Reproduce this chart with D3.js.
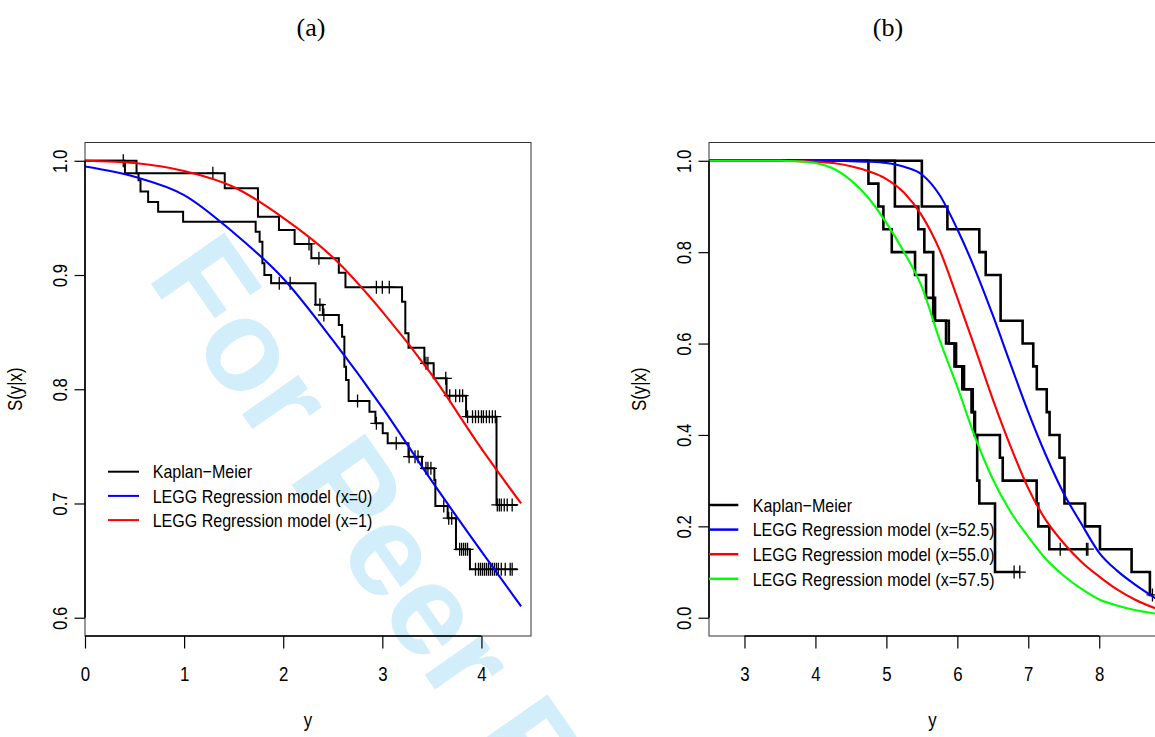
<!DOCTYPE html>
<html><head><meta charset="utf-8">
<script src="https://cdn.jsdelivr.net/npm/d3@7"></script>
<style>body{margin:0;background:#fff} svg{display:block}</style>
</head><body>
<svg id="c" width="1155" height="737"></svg>
<script>
// ---------- Panel (a) data ----------
const aXTicks = [0, 1, 2, 3, 4];
const aYTicks = [0.6, 0.7, 0.8, 0.9, 1.0];
// LEGG model curves
const aModelTime = [0, 0.5, 1.0, 1.5, 2.0, 2.5, 3.0, 3.5, 4.0, 4.4];
const aModelX0 = [0.995, 0.986, 0.970, 0.937, 0.897, 0.843, 0.784, 0.7195, 0.658, 0.610];
const aModelX1 = [1.0, 0.998, 0.991, 0.977, 0.950, 0.9155, 0.868, 0.8125, 0.748, 0.700];
// Kaplan-Meier, group x=0
const aKm0Time = [0, 0.52, 0.54, 0.56, 0.637, 0.738, 0.99, 1.722, 1.762, 1.79, 1.81, 1.878, 2.326, 2.40, 2.561, 2.594, 2.617, 2.634, 2.66, 2.87, 2.93, 3.004, 3.054, 3.264, 3.40, 3.525, 3.535, 3.659, 3.743, 3.884, 4.364];
const aKm0Surv = [1, 0.989, 0.983, 0.973, 0.964, 0.9554, 0.9467, 0.9379, 0.9292, 0.9103, 0.900, 0.8928, 0.874, 0.865, 0.8563, 0.846, 0.8198, 0.8081, 0.7897, 0.7804, 0.7702, 0.7615, 0.7527, 0.741, 0.7308, 0.7206, 0.6978, 0.6871, 0.6599, 0.6424, 0.6424];
const aKm0Cens = [1.96, 2.07, 2.37, 2.41, 2.75, 2.94, 3.14, 3.27, 3.33, 3.36, 3.44, 3.46, 3.49, 3.62, 3.67, 3.70, 3.78, 3.80, 3.82, 3.84, 3.86, 3.94, 3.97, 3.99, 4.01, 4.03, 4.05, 4.07, 4.09, 4.11, 4.13, 4.15, 4.17, 4.20, 4.24, 4.29, 4.31];
// Kaplan-Meier, group x=1
const aKm1Time = [0, 0.403, 1.41, 1.745, 1.957, 2.115, 2.284, 2.561, 2.628, 3.199, 3.232, 3.264, 3.424, 3.518, 3.648, 3.845, 4.152, 4.364];
const aKm1Surv = [1, 0.9891, 0.9759, 0.9511, 0.9394, 0.9272, 0.9147, 0.902, 0.8893, 0.8767, 0.849, 0.8364, 0.8227, 0.8096, 0.7944, 0.776, 0.6987, 0.6987];
const aKm1Cens = [0.386, 1.29, 2.26, 2.36, 2.94, 3.00, 3.07, 3.44, 3.46, 3.64, 3.68, 3.74, 3.78, 3.81, 3.86, 3.91, 3.94, 3.97, 4.00, 4.02, 4.05, 4.08, 4.11, 4.14, 4.16, 4.18, 4.20, 4.23, 4.26, 4.31];
const aLegend = ["Kaplan\u2212Meier", "LEGG Regression model (x=0)", "LEGG Regression model (x=1)"];

// ---------- Panel (b) data ----------
const bXTicks = [3, 4, 5, 6, 7, 8];
const bYTicks = [0.0, 0.2, 0.4, 0.6, 0.8, 1.0];
const bModelTime = [2.5, 3.0, 3.5, 3.75, 4.0, 4.25, 4.5, 4.75, 5.0, 5.25, 5.5, 5.75, 6.0, 6.25, 6.5, 6.75, 7.0, 7.25, 7.5, 7.75, 8.0, 8.25, 8.5, 8.8];
const bModel525 = [1, 1, 1, 1, 1, 1, 0.999, 0.998, 0.995, 0.987, 0.970, 0.925, 0.850, 0.762, 0.662, 0.555, 0.450, 0.355, 0.272, 0.205, 0.142, 0.103, 0.073, 0.042];
const bModel550 = [1, 1, 1, 0.999, 0.998, 0.995, 0.988, 0.977, 0.960, 0.930, 0.880, 0.805, 0.700, 0.590, 0.478, 0.375, 0.283, 0.213, 0.163, 0.122, 0.090, 0.062, 0.040, 0.020];
const bModel575 = [1, 1, 1, 0.999, 0.995, 0.983, 0.957, 0.918, 0.864, 0.800, 0.724, 0.608, 0.505, 0.395, 0.303, 0.232, 0.177, 0.128, 0.092, 0.063, 0.040, 0.027, 0.017, 0.009];
const bKmATime = [0, 5.50, 5.86, 6.31, 6.40, 6.61, 6.92, 7.07, 7.12, 7.26, 7.30, 7.44, 7.51, 7.80, 8.01, 8.456, 8.714, 8.75];
const bKmASurv = [1, 0.90, 0.85, 0.80, 0.75, 0.65, 0.60, 0.55, 0.50, 0.45, 0.40, 0.35, 0.25, 0.20, 0.15, 0.10, 0.05, 0.05];
const bKmACens = [8.75];
const bKmBTime = [0, 5.12, 5.45, 5.535, 5.66, 5.88, 5.96, 6.07, 6.20, 6.24, 6.60, 6.64, 7.118, 7.141, 7.296, 7.84];
const bKmBSurv = [1, 0.90, 0.85, 0.80, 0.65, 0.60, 0.55, 0.50, 0.45, 0.40, 0.35, 0.30, 0.25, 0.20, 0.15, 0.15];
const bKmBCens = [7.45, 7.82, 7.84];
const bKmCTime = [0, 4.747, 4.887, 4.958, 5.076, 5.404, 5.559, 5.686, 5.841, 5.982, 6.094, 6.217, 6.249, 6.28, 6.31, 6.531, 6.88];
const bKmCSurv = [1, 0.95, 0.90, 0.85, 0.80, 0.75, 0.70, 0.65, 0.60, 0.55, 0.50, 0.45, 0.40, 0.30, 0.25, 0.10, 0.10];
const bKmCCens = [6.80, 6.88];
const bLegend = ["Kaplan\u2212Meier", "LEGG Regression model (x=52.5)", "LEGG Regression model (x=55.0)", "LEGG Regression model (x=57.5)"];

const titles = ["(a)", "(b)"];
const xLabel = "y";
const yLabel = "S(y|x)";

// ---------- drawing ----------
const FONT = "'Liberation Sans', Arial, Helvetica, sans-serif";
const CX = 0.862;
const svg = d3.select('#c');
svg.append('rect').attr('width', 1155).attr('height', 737).attr('fill', '#fff');

// watermark
svg.append('text')
  .attr('transform', 'translate(146,277) rotate(55)')
  .attr('font-family', FONT).attr('font-weight', 'bold').attr('font-size', 130)
  .attr('fill', '#d2eefa').text('For Peer Review');

function addText(parent, x, y, s, o = {}) {
  const size = o.size || 19.5, anchor = o.anchor || 'start', rot = o.rot || 0;
  const sx = o.sx === undefined ? CX : o.sx;
  return parent.append('text')
    .attr('transform', `translate(${x},${y}) rotate(${rot}) scale(${sx},1)`)
    .attr('text-anchor', anchor).attr('font-family', o.family || FONT)
    .attr('font-size', size).attr('fill', '#000').text(s);
}
function stepAt(times, surv, t) {
  let s = surv[0];
  for (let i = 0; i < times.length; i++) if (times[i] <= t) s = surv[i];
  return s;
}

const TOP = 142.5, BOT = 636;

function panel(cfg) {
  const x = d3.scaleLinear().domain(cfg.xdom).range([cfg.left, cfg.right]);
  const y = d3.scaleLinear().domain(cfg.ydom).range([BOT, TOP]);
  const g = svg.append('g');
  const cid = 'clip' + cfg.id;
  svg.append('clipPath').attr('id', cid).append('rect')
    .attr('x', cfg.left).attr('y', TOP).attr('width', cfg.right - cfg.left).attr('height', BOT - TOP);
  const pg = g.append('g').attr('clip-path', `url(#${cid})`);

  const step = d3.line().x(d => x(d[0])).y(d => y(d[1])).curve(d3.curveStepAfter);
  cfg.km.forEach(k => {
    pg.append('path').datum(d3.zip(k.t, k.s)).attr('d', step)
      .attr('fill', 'none').attr('stroke', '#000').attr('stroke-width', cfg.kmW);
    const cp = d3.path();
    k.c.forEach(t => {
      const px = x(t), py = y(stepAt(k.t, k.s, t));
      cp.moveTo(px - 6, py); cp.lineTo(px + 6, py);
      cp.moveTo(px, py - 6.5); cp.lineTo(px, py + 6.5);
    });
    pg.append('path').attr('d', cp.toString()).attr('fill', 'none')
      .attr('stroke', '#000').attr('stroke-width', 1.3);
  });
  const smooth = d3.line().x(d => x(d[0])).y(d => y(d[1])).curve(d3.curveMonotoneX);
  cfg.models.forEach(m => {
    pg.append('path').datum(d3.zip(m.t, m.s)).attr('d', smooth)
      .attr('fill', 'none').attr('stroke', m.color).attr('stroke-width', 2.1);
  });

  // box
  g.append('rect').attr('x', cfg.left).attr('y', TOP).attr('width', cfg.right - cfg.left)
    .attr('height', BOT - TOP).attr('fill', 'none').attr('stroke', '#333').attr('stroke-width', 1);

  // x axis
  const xa = g.append('g').attr('transform', `translate(0,${BOT})`)
    .call(d3.axisBottom(x).tickValues(cfg.xticks).tickSize(12.5).tickSizeOuter(0).tickFormat(d3.format('d')));
  xa.select('.domain').remove();
  xa.append('line').attr('x1', x(cfg.xticks[0])).attr('x2', x(cfg.xticks[cfg.xticks.length - 1]))
    .attr('stroke', '#000').attr('stroke-width', 1.6);
  xa.selectAll('.tick line').attr('stroke', '#000').attr('stroke-width', 1.2);
  xa.selectAll('.tick text').attr('y', null).attr('dy', null)
    .attr('transform', `translate(0,44.7) scale(${CX},1)`)
    .attr('font-family', FONT).attr('font-size', 19.5).attr('fill', '#000');
  xa.attr('font-family', FONT).attr('font-size', 19.5);

  // y axis
  const ya = g.append('g').attr('transform', `translate(${cfg.left},0)`)
    .call(d3.axisLeft(y).tickValues(cfg.yticks).tickSize(10.5).tickSizeOuter(0).tickFormat(d3.format('.1f')));
  ya.select('.domain').remove();
  ya.append('line').attr('y1', y(cfg.yticks[0])).attr('y2', y(cfg.yticks[cfg.yticks.length - 1]))
    .attr('stroke', '#000').attr('stroke-width', 1.6);
  ya.selectAll('.tick line').attr('stroke', '#000').attr('stroke-width', 1.2);
  ya.selectAll('.tick text').attr('x', null).attr('dy', null).attr('text-anchor', 'middle')
    .attr('transform', `translate(-18,0) rotate(-90) scale(${CX},1)`)
    .attr('font-family', FONT).attr('font-size', 19.5).attr('fill', '#000');
  ya.attr('font-family', FONT).attr('font-size', 19.5);

  // axis labels
  addText(g, (cfg.left + cfg.right) / 2, 727, xLabel, { anchor: 'middle' });
  addText(g, cfg.left - 63, (TOP + BOT) / 2, yLabel, { anchor: 'middle', rot: -90 });

  // legend
  const lg = cfg.legend;
  lg.labels.forEach((lab, i) => {
    const ly = lg.y0 + i * lg.dy;
    g.append('line').attr('x1', lg.x1).attr('x2', lg.x2).attr('y1', ly).attr('y2', ly)
      .attr('stroke', lg.colors[i]).attr('stroke-width', lg.w);
    addText(g, lg.tx, ly + 6.7, lab, { size: 18.6 });
  });

  // title
  addText(svg, cfg.titleX, 36, cfg.title, { anchor: 'middle', size: 26, sx: 1, family: "'Liberation Serif', 'Times New Roman', serif" });
}

panel({
  id: 'a', left: 85, right: 531, xdom: [0, 4.5], ydom: [0.584, 1.016],
  xticks: aXTicks, yticks: aYTicks, kmW: 2,
  km: [{ t: aKm0Time, s: aKm0Surv, c: aKm0Cens }, { t: aKm1Time, s: aKm1Surv, c: aKm1Cens }],
  models: [{ t: aModelTime, s: aModelX0, color: '#0000ff' }, { t: aModelTime, s: aModelX1, color: '#ff0000' }],
  legend: { labels: aLegend, colors: ['#000', '#0000ff', '#ff0000'], x1: 108, x2: 139, tx: 152.7, y0: 471.7, dy: 24.2, w: 2 },
  title: titles[0], titleX: 311
});
panel({
  id: 'b', left: 709, right: 1156, xdom: [2.5, 8.8], ydom: [-0.04, 1.04],
  xticks: bXTicks, yticks: bYTicks, kmW: 2.6,
  km: [{ t: bKmATime, s: bKmASurv, c: bKmACens }, { t: bKmBTime, s: bKmBSurv, c: bKmBCens }, { t: bKmCTime, s: bKmCSurv, c: bKmCCens }],
  models: [{ t: bModelTime, s: bModel525, color: '#0000ff' }, { t: bModelTime, s: bModel550, color: '#ff0000' }, { t: bModelTime, s: bModel575, color: '#00ff00' }],
  legend: { labels: bLegend, colors: ['#000', '#0000ff', '#ff0000', '#00ff00'], x1: 709, x2: 738.3, tx: 752.7, y0: 505, dy: 24.6, w: 2.5 },
  title: titles[1], titleX: 888
});
</script></body></html>
